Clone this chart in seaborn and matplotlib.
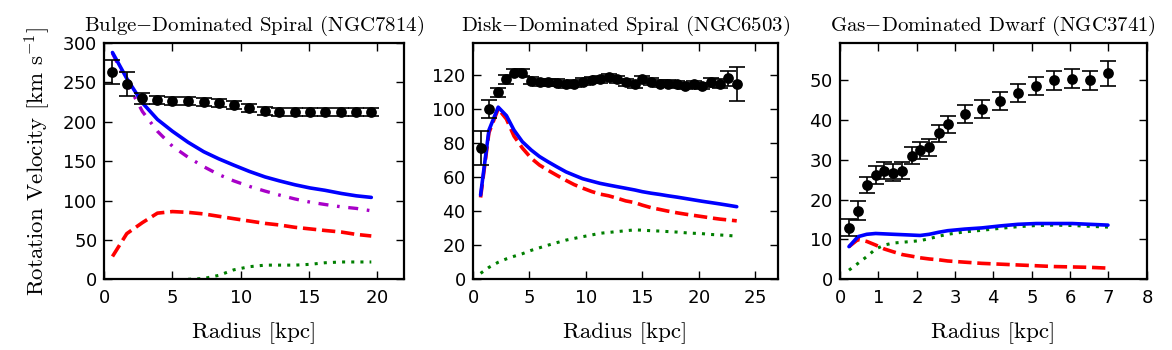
import numpy as np
import pandas as pd
import matplotlib
matplotlib.use("Agg")
import matplotlib.pyplot as plt
import seaborn as sns

# NGC7814 - bulge dominated
r_7814 = [0.6, 1.65, 2.8, 3.9, 5.0, 6.15, 7.3, 8.4, 9.5, 10.65, 11.8, 12.85, 14.0, 15.1, 16.2, 17.4, 18.5, 19.6]
vobs_7814 = [263, 248, 230, 228, 226, 226, 225, 224, 221, 217, 214, 212, 213, 213, 213, 213, 213, 213]
err_7814 = [15, 15, 7, 5, 5, 5, 5, 5, 5, 5, 5, 5, 5, 5, 5, 5, 5, 5]
vtot_7814 = [288, 255, 224, 203, 188, 174, 162, 153, 145, 137, 130, 125, 120, 116, 113, 109, 106, 104]
vbul_7814 = [287, 250, 213, 188, 169, 155, 143, 133, 125, 118, 112, 107, 102, 98, 95, 92, 90, 87]
vdisk_7814 = [29, 58, 72, 84, 86, 85, 83, 80, 77, 74, 71, 69, 66, 64, 62, 60, 57, 55]
vgas_7814 = [np.nan, np.nan, np.nan, np.nan, np.nan, 0, 1, 5, 12, 16, 18, 18, 18, 19, 21, 22, 22, 22]

# NGC6503 - disk dominated
r_6503 = [0.70, 1.44, 2.26, 2.99, 3.66, 4.40, 5.19, 5.92, 6.66, 7.45, 8.27, 9.00, 9.74, 10.53, 11.27, 12.03,
          12.82, 13.55, 14.35, 15.02, 15.81, 16.55, 17.28, 18.10, 18.84, 19.57, 20.30, 21.10, 21.90, 22.65, 23.38]
vobs_6503 = [76.8, 99.9, 109.7, 117.3, 121.2, 121.2, 116.5, 115.5, 115.5, 115.3, 114.4, 114.8, 115.9, 116.9, 117.3, 118.5,
             117.3, 115.5, 114.4, 117.3, 115.9, 114.8, 114.8, 114.4, 113.4, 114.4, 113.4, 115.5, 114.8, 117.9, 114.8]
err_6503 = [10, 5, 2.5, 2.5, 2, 2, 2, 2, 2, 2, 2, 2, 2, 2, 2, 2,
            2, 2, 2, 2, 2, 2, 2, 2, 2, 2, 2, 2.5, 2.5, 4.5, 10]
vtot_6503 = [49.4, 87.5, 101, 96, 87.5, 80.7, 75.8, 72, 69, 66, 63, 61, 59, 57.6, 56.3, 55.3,
             54.3, 53.4, 52.4, 51.4, 50.5, 49.8, 49.0, 48.2, 47.4, 46.6, 45.8, 45.0, 44.2, 43.4, 42.6]
vdisk_6503 = [48, 86, 100, 94, 84, 77, 71, 67, 64, 61, 58, 55.5, 53.5, 51.5, 50, 49,
              47.5, 46, 45, 43.5, 42, 41, 40, 39, 38.2, 37.5, 36.8, 36, 35.3, 34.8, 34.3]
vgas_6503 = [3.5, 7, 10, 12, 13.5, 15, 17, 18.5, 20, 21.5, 23, 24, 25, 26, 27, 27.5,
             28, 28.5, 29, 28.8, 28.5, 28.3, 28, 27.7, 27.3, 27, 26.8, 26.3, 26, 25.7, 25.3]

# NGC3741 - gas dominated dwarf
r_3741 = [0.235, 0.47, 0.70, 0.93, 1.16, 1.39, 1.63, 1.87, 2.09, 2.33, 2.57, 2.81, 3.25, 3.70, 4.18, 4.64, 5.12, 5.58, 6.06, 6.52, 6.99]
vobs_3741 = [13.0, 17.2, 23.7, 26.2, 27.3, 26.8, 27.3, 31.0, 32.4, 33.1, 36.6, 38.9, 41.5, 42.7, 44.8, 46.7, 48.6, 50.0, 50.3, 50.0, 51.7]
err_3741 = [2.1, 2.4, 2.1, 2.2, 2.1, 2.1, 2.1, 2.1, 2.1, 2.1, 2.1, 2.1, 2.2, 2.2, 2.2, 2.2, 2.3, 2.4, 2.4, 2.4, 3.2]
vtot_3741 = [8.2, 10.7, 11.3, 11.5, 11.4, 11.3, 11.2, 11.1, 11.0, 11.3, 11.8, 12.2, 12.6, 12.9, 13.4, 13.8, 14.0, 14.0, 14.0, 13.8, 13.6]
vdisk_3741 = [8.2, 10, 9.5, 8.6, 7.6, 6.9, 6.2, 5.8, 5.4, 5.1, 4.9, 4.6, 4.3, 4.0, 3.8, 3.6, 3.4, 3.2, 3.1, 3.0, 2.8]
vgas_3741 = [2.3, 4.0, 5.7, 7.6, 8.6, 9.1, 9.3, 9.5, 9.7, 10.2, 10.8, 11.3, 11.9, 12.3, 12.8, 13.2, 13.5, 13.6, 13.5, 13.3, 13.1]

titles = ["Bulge$-$Dominated Spiral (NGC7814)",
          "Disk$-$Dominated Spiral (NGC6503)",
          "Gas$-$Dominated Dwarf (NGC3741)"]

sns.set_style("ticks", {"xtick.direction": "in", "ytick.direction": "in",
                        "axes.edgecolor": "black"})
plt.rcParams["mathtext.fontset"] = "cm"
plt.rcParams["axes.formatter.use_mathtext"] = True
plt.rcParams["font.family"] = ["DejaVu Sans"]
plt.rcParams["text.color"] = "black"
plt.rcParams["axes.labelcolor"] = "black"

title_font = {"family": "cmr10", "size": 15}
label_font = {"family": "cmr10", "size": 16.5}

galaxies = [
    (r_7814, vobs_7814, err_7814, vtot_7814, vbul_7814, vdisk_7814, vgas_7814, (0, 22), (0, 300), range(0, 301, 50), range(0, 21, 5)),
    (r_6503, vobs_6503, err_6503, vtot_6503, None, vdisk_6503, vgas_6503, (0, 27), (0, 138.6), range(0, 121, 20), range(0, 26, 5)),
    (r_3741, vobs_3741, err_3741, vtot_3741, None, vdisk_3741, vgas_3741, (0, 8), (0, 59.3), range(0, 51, 10), range(0, 9, 1)),
]

fig = plt.figure(figsize=(11.72, 3.5), dpi=100)
boxes = [[0.0890, 0.202, 0.2557, 0.675],
         [0.4033, 0.202, 0.2602, 0.675],
         [0.7167, 0.202, 0.2617, 0.675]]

for i, (r, vobs, err, vtot, vbul, vdisk, vgas, xl, yl, yt, xt) in enumerate(galaxies):
    ax = fig.add_axes(boxes[i])
    df = pd.DataFrame({"R": r, "Vobs": vobs, "err": err, "Vtot": vtot,
                       "Vdisk": vdisk, "Vgas": vgas})
    if vbul is not None:
        df["Vbul"] = vbul

    sns.lineplot(data=df, x="R", y="Vgas", ax=ax, color="#007f00", lw=2.2,
                 linestyle=(0, (1, 2)), estimator=None, sort=False)
    sns.lineplot(data=df, x="R", y="Vdisk", ax=ax, color="#ff0000", lw=2.6,
                 linestyle=(0, (3.7, 1.6)), estimator=None, sort=False)
    if vbul is not None:
        sns.lineplot(data=df, x="R", y="Vbul", ax=ax, color="#a800c8", lw=2.4,
                     linestyle=(0, (3, 2.6, 0.8, 2.6)), estimator=None, sort=False)
    sns.lineplot(data=df, x="R", y="Vtot", ax=ax, color="#0000ff", lw=2.6,
                 estimator=None, sort=False)

    ax.errorbar(df["R"], df["Vobs"], yerr=df["err"], fmt="none", ecolor="black",
                elinewidth=1.2, capsize=5.5, capthick=1.2, zorder=4)
    sns.scatterplot(data=df, x="R", y="Vobs", ax=ax, color="black", s=60,
                    edgecolor="black", linewidth=0, zorder=5)

    ax.set_xlim(*xl)
    ax.set_ylim(*yl)
    ax.set_xticks(list(xt))
    ax.set_yticks(list(yt))
    ax.tick_params(direction="in", top=True, right=True, length=6, width=1,
                   labelsize=13, colors="black")
    ax.tick_params(axis="x", pad=7)
    ax.tick_params(axis="y", pad=5)
    for sp in ax.spines.values():
        sp.set_visible(True)
        sp.set_linewidth(1.6)
        sp.set_color("black")

    ax.set_title(titles[i], fontdict=title_font, pad=9)
    ax.set_xlabel("Radius [kpc]", fontdict=label_font, labelpad=11)
    if i == 0:
        ax.set_ylabel("Rotation Velocity [km s$^{-1}$]", fontdict=label_font, labelpad=7)
    else:
        ax.set_ylabel("")

fig.savefig("out.png", dpi=100)
